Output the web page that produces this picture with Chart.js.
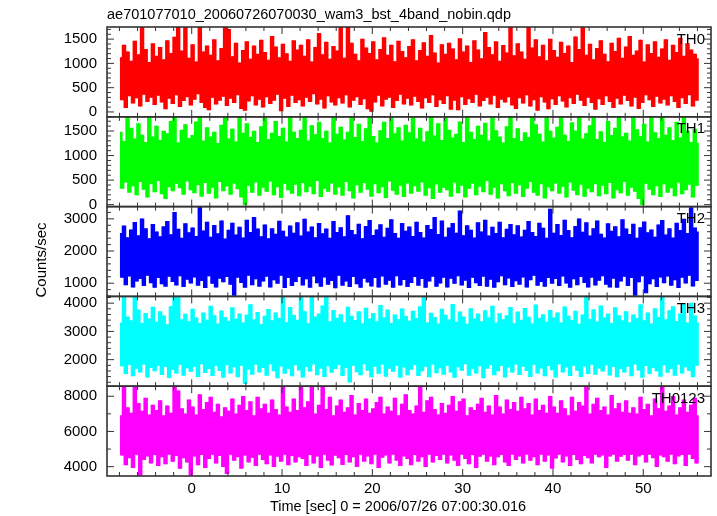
<!DOCTYPE html>
<html>
<head>
<meta charset="utf-8">
<title>WAM light curve</title>
<script src="https://cdn.jsdelivr.net/npm/chart.js@4.4.1/dist/chart.umd.min.js"></script>
<style>
  html, body { margin: 0; padding: 0; background: #fff; }
  #wrap { position: relative; width: 717px; height: 516px; }
</style>
</head>
<body>
<div id="wrap"><canvas id="lc" width="717" height="516"></canvas></div>
<script>
const fileName = 'ae701077010_20060726070030_wam3_bst_4band_nobin.qdp';
const xLabel = 'Time [sec] 0 = 2006/07/26 07:00:30.016';
const yLabel = 'Counts/sec';

// time grid of the light curve (sec)
const tStart = -7.9;
const tStep = 0.2;

const bandNames = ['TH0', 'TH1', 'TH2', 'TH3', 'TH0123'];
const bandColors = ['#ff0000', '#00ff00', '#0000ff', '#00ffff', '#ff00ff'];

// count rates
const th0Rate = [
  1120,250,1380,90,1240,330,1050,180,1460,290,1180,120,1750,360,1290,210,1020,300,1410,150,
  1150,340,1330,200,1080,60,1470,280,1210,170,1540,350,1750,110,1260,230,1750,310,1110,140,
  1390,260,1030,370,1750,190,1240,90,1360,40,1170,300,1490,160,1060,240,1310,320,1750,130,
  1700,280,1140,190,1420,350,1010,70,1270,30,1450,220,1090,330,1360,140,1190,260,1480,100,
  1230,310,1070,170,1560,240,1340,360,1120,20,1400,280,1200,110,1050,340,1470,190,1280,250,
  1380,120,1150,300,1490,210,1030,370,1330,160,1620,260,1180,80,1440,330,1090,200,1350,140,
  1260,290,1750,180,1110,350,1750,100,1420,240,1190,310,1060,150,1500,270,1320,60,1210,10,
  1450,200,1080,340,1290,120,1530,260,1170,300,1380,90,1040,230,1460,360,1250,160,1120,280,
  1350,140,1490,320,1060,210,1270,80,1430,290,1150,190,1580,350,1220,110,1010,250,1390,170,
  1190,330,1420,50,1300,240,1080,40,1510,310,1240,150,1360,270,1020,190,1470,360,1280,120,
  1100,230,1640,300,1330,160,1180,340,1450,90,1050,260,1370,200,1220,310,1750,140,1160,70,
  1410,290,1240,180,1090,350,1750,120,1320,250,1490,30,1140,310,1380,200,1060,60,1500,270,
  1270,150,1130,330,1440,220,1210,100,1360,290,1020,170,1550,360,1290,240,1750,130,1170,300,
  1400,190,1080,50,1310,270,1470,150,1190,330,1040,210,1420,90,1250,280,1520,160,1110,340,
  1340,230,1560,120,1170,300,1260,70,1480,190,1030,350,1390,250,1210,110,1450,320,1130,180,
  1300,260,1490,140,1070,330,1380,210,1230,90,1520,290,1150,170,1410,350,1280,120,1190,240,
  1100];

const th1Rate = [
  1480,330,1290,460,1790,250,1560,380,1340,200,1650,470,1420,310,1270,150,1790,420,1380,260,
  1600,490,1310,220,1500,120,1450,360,1700,280,1790,430,1260,340,1520,210,1630,480,1350,300,
  1410,240,1690,400,1790,170,1300,450,1570,230,1380,350,1480,130,1250,470,1620,280,1790,380,
  1340,210,1540,440,1280,320,1790,150,1460,0,1650,390,1370,250,1500,460,1270,190,1590,350,
  1790,270,1330,480,1460,200,1700,360,1390,140,1560,430,1280,300,1790,230,1480,410,1350,180,
  1520,450,1790,260,1300,370,1610,220,1430,490,1680,160,1350,330,1500,270,1260,440,1790,210,
  1440,360,1580,190,1320,470,1480,280,1790,130,1370,400,1640,250,1290,450,1550,310,1790,170,
  1390,420,1260,240,1510,360,1680,140,1350,480,1790,290,1450,210,1570,390,1300,160,1620,440,
  1470,230,1790,380,1340,270,1560,460,1280,190,1490,340,1790,120,1400,420,1650,250,1310,350,
  1790,300,1520,170,1360,460,1440,240,1690,390,1270,150,1790,330,1480,440,1330,200,1600,370,
  1420,260,1660,490,1300,210,1790,350,1510,130,1380,420,1260,280,1590,180,1790,450,1350,230,
  1550,400,1290,160,1470,330,1370,470,1790,250,1630,190,1440,420,1280,130,1790,360,1500,280,
  1360,440,1580,230,1790,370,1420,150,1290,460,1670,290,1500,200,1790,410,1340,170,1450,330,
  1610,260,1790,420,1330,180,1490,390,1270,220,1700,450,1410,130,1560,300,1790,240,1380,470,
  1460,190,1300,350,1790,270,1530,120,1390,0,1640,430,1280,310,1790,200,1470,380,1350,160,
  1790,420,1420,250,1570,340,1310,180,1680,460,1360,220,1790,300,1500,410,1270,150,1540,390,
  1250];

const th2Rate = [
  2550,1180,2780,950,2420,1220,2660,880,2890,1060,2480,1140,3000,920,2700,1240,2390,1010,2830,870,
  2600,1170,2450,980,2760,900,2920,1210,2510,1050,3200,940,2680,1230,2400,890,2850,1120,2570,1000,
  2720,1190,2460,930,3380,1080,2630,860,2900,1230,2430,990,2800,880,2540,1150,2940,1040,2380,1200,
  2650,960,2870,620,2500,1180,2740,1020,2410,870,2960,1240,2580,950,3050,1130,2690,900,2450,1060,
  2810,1210,2390,880,2700,1100,2530,990,2930,1240,2620,860,2440,1170,2780,920,2560,1050,2880,1200,
  2470,940,2990,1130,2600,870,2750,1220,2420,1010,2860,900,2540,1190,2690,960,2400,1080,2920,850,
  2580,1240,2730,930,2450,1060,3100,890,2640,1200,2510,980,2840,870,2390,1150,2770,1030,2950,910,
  2490,1170,2660,880,2820,1220,2430,960,2710,1090,2980,870,2550,1230,2400,940,2860,1110,2620,890,
  2750,1020,2460,1200,2900,930,2580,1140,2410,870,2800,1060,2670,1210,3050,900,2520,1000,2940,1180,
  2430,880,2720,1150,2860,990,2560,1230,3250,940,2480,1090,2790,860,2650,1180,2410,1010,2880,920,
  2600,1210,2960,900,2470,1120,2740,870,2550,1040,2900,1230,2420,950,2680,1160,2830,890,2510,1070,
  2790,960,2440,1190,2650,880,2920,1100,2580,1240,2460,930,2870,1050,2710,900,2400,1170,3300,990,
  2560,1140,2830,920,2490,1220,2960,1000,2640,870,2420,1130,2770,950,3000,1200,2590,1020,2880,880,
  2470,1180,2700,940,2940,1090,2530,1230,2410,960,2850,880,2620,1150,2760,870,2450,1060,2980,1210,
  2690,920,2520,1170,2840,620,2400,1040,2730,1230,2910,700,2570,980,2660,1130,2430,890,2810,1190,
  2950,1010,2500,1220,2700,930,2410,1100,2870,860,2640,1180,2990,1000,2550,1240,3350,910,2720,1080,
  2600];

const th3Rate = [
  3300,1780,4240,1500,3520,1820,3380,1420,4240,1690,3760,1560,3290,1840,3640,1380,3450,1720,3860,1600,
  3330,1800,3700,1470,3550,1750,3240,1360,3880,1650,4240,1520,4240,1830,3420,1440,3610,1710,3350,1580,
  3790,1760,3480,1400,3290,1850,3660,1540,3400,1680,3900,1430,3560,1790,3270,1610,3730,1370,3500,1820,
  3360,1520,3840,1740,3440,1390,3620,1800,3300,1150,3580,1660,3950,1480,3410,1830,3680,1560,3250,1720,
  3540,1440,3780,1850,3380,1600,3660,1350,3460,1770,4240,1510,3310,1690,3850,1420,3570,1810,3400,1630,
  4240,1380,3700,1750,3280,1590,4240,1840,3520,1460,3620,1700,3910,1400,4240,1780,3350,1550,3750,1680,
  3470,1820,3600,1430,3310,1720,3860,1200,3540,1800,3390,1570,3700,1460,3280,1850,3830,1620,3450,1390,
  3640,1760,3350,1510,3920,1840,3480,1410,3760,1690,3290,1580,3590,1800,3420,1370,3800,1730,3530,1460,
  3370,1650,3720,1820,3460,1430,3880,1600,4240,1760,3300,1390,3650,1840,3500,1530,3270,1710,3790,1480,
  3580,1800,3410,1560,3960,1370,3330,1740,3690,1620,3520,1850,3260,1440,3810,1690,3440,1520,3620,1780,
  3350,1350,3740,1690,3480,1820,3900,1460,3300,1600,3630,1790,3420,1380,3560,1730,3850,1560,3280,1840,
  3690,1470,3400,1760,3820,1610,3510,1400,3270,1830,3940,1520,3460,1700,3600,1420,3330,1790,3750,1640,
  3480,1380,3660,1850,3300,1560,3870,1740,3540,1430,3390,1800,3720,1620,3260,1400,3590,1770,4240,1500,
  3430,1830,3770,1480,3340,1700,3910,1590,3480,1810,3620,1450,3290,1750,3840,1390,3560,1680,3380,1560,
  3700,1760,3310,1420,3590,1840,3460,1630,3950,1370,3380,1790,3660,1500,3270,1720,3810,1600,3500,1410,
  4240,1810,3420,1550,3740,1680,3880,1440,3360,1830,3620,1520,3960,1740,3300,1610,4000,1390,3550,1800,
  3300];

const th0123Rate = [
  6900,4650,8570,4100,7350,4500,7050,3950,8570,4700,7600,3500,7150,4400,7900,4600,6950,4200,7500,4680,
  7200,4050,7750,4550,6900,4150,7450,4690,7050,4300,8570,4620,8300,3900,7300,4500,7000,4250,7800,3500,
  7400,4600,6950,4100,8100,4680,7250,3950,7650,4450,7950,4700,7100,4200,7550,4620,6850,4000,7350,3600,
  7150,4700,7850,4350,7000,4560,7500,3900,8000,4650,7200,4250,7700,4520,6900,4050,7950,4700,7300,4400,
  7550,4150,7050,4660,7800,4000,7250,4580,6950,4300,8570,4700,7400,4100,7100,4620,7850,4250,7200,4560,
  8570,4450,7350,4050,7700,4680,8570,4200,7000,4600,7500,3950,8570,4700,7250,4350,7950,4080,6900,4640,
  7450,4500,7800,4120,7100,4680,7350,4250,8050,4550,6950,4000,7600,4700,7200,4300,7850,4600,7050,4150,
  7300,4690,7650,3950,7950,4520,7000,4650,7400,4200,7150,4700,7900,4350,6900,4050,7550,4600,8100,4450,
  7200,4100,7000,4680,7450,4300,8570,4550,7100,4000,7750,4700,7950,4250,7250,4620,6950,4400,7600,4700,
  7050,4200,7500,4650,8000,4350,7150,4050,7700,4700,7850,4450,6900,4150,7350,4680,7200,3950,7550,4580,
  7900,4700,7100,4300,7450,4600,6950,4100,8050,4550,7400,4680,7000,4250,7800,4050,7250,4700,7650,4400,
  7150,4600,7950,4200,7300,4690,7600,4350,6950,4550,7850,4100,7200,4700,7500,4300,7050,4650,8000,3900,
  7400,4480,7050,4700,7750,4250,7300,4600,6900,4050,7950,4680,7150,4400,7650,4150,7450,4620,8570,4500,
  7000,4200,7550,4700,7900,4550,7200,4650,7400,3950,6950,4600,8050,4700,7300,4300,7600,4580,7100,4680,
  7750,4350,7050,4700,7350,4100,7000,4600,7950,4680,7250,4250,7550,4700,6900,4500,7850,4000,7300,4650,
  8500,4550,7150,4300,7450,4700,8000,4150,6950,4600,7350,4680,7800,4050,7100,4700,7500,4450,7900,4200,
  6900];

const bandRates = [th0Rate, th1Rate, th2Rate, th3Rate, th0123Rate];

// axes
const xRange = [-9.38, 57.5];
const xTicks = [0, 10, 20, 30, 40, 50];
const xMinorStep = 2;
const yRanges = [[-100, 1750], [-40, 1790], [590, 3380], [1060, 4240], [3470, 8570]];
const yTicks = [[0, 500, 1000, 1500], [0, 500, 1000, 1500], [1000, 2000, 3000], [2000, 3000, 4000], [4000, 6000, 8000]];
const yMinorStep = [100, 100, 200, 200, 1000];

const fontFamily = "'Liberation Sans', Arial, Helvetica, sans-serif";

// the curve between two successive samples, as a vertical span
function buildSpans(rates) {
    const spans = [];
    for (let k = 0; k + 1 < rates.length; k++) {
        const a = rates[k];
        const b = rates[k + 1];
        spans.push({ x: tStart + (k + 0.5) * tStep, y: [Math.min(a, b), Math.max(a, b)] });
    }
    return spans;
}

const datasets = bandNames.map((name, i) => ({
    type: 'bar',
    label: name,
    data: buildSpans(bandRates[i]),
    yAxisID: 'y' + i,
    xAxisID: 'x',
    backgroundColor: bandColors[i],
    borderWidth: 0,
    barThickness: 2.0,
    grouped: false
}));

const scales = {
    x: {
        type: 'linear',
        position: 'bottom',
        offset: false,
        min: xRange[0],
        max: xRange[1],
        afterBuildTicks: s => { s.ticks = xTicks.map(v => ({ value: v })); },
        afterFit: s => { s.height = 40; },
        grid: { display: false, drawTicks: false },
        border: { display: false },
        ticks: {
            color: '#000',
            font: { family: fontFamily, size: 15 },
            padding: 4,
            maxRotation: 0,
            autoSkip: false,
            callback: v => String(v)
        }
    }
};

bandNames.forEach((name, i) => {
    scales['y' + i] = {
        type: 'linear',
        position: 'left',
        stack: 'panels',
        stackWeight: 1,
        weight: bandNames.length - i,
        min: yRanges[i][0],
        max: yRanges[i][1],
        afterBuildTicks: s => { s.ticks = yTicks[i].map(v => ({ value: v })); },
        afterFit: s => { s.width = 107; },
        grid: { display: false, drawTicks: false },
        border: { display: false },
        ticks: {
            color: '#000',
            font: { family: fontFamily, size: 15 },
            padding: 10,
            autoSkip: false,
            callback: v => String(v)
        }
    };
});

// frames, inward tick marks and the text round the panels
const panelFrame = {
    id: 'panelFrame',
    afterDraw(chart) {
        const ctx = chart.ctx;
        const xs = chart.scales.x;
        const left = chart.chartArea.left;
        const right = chart.chartArea.right;

        ctx.save();
        ctx.strokeStyle = '#333';
        ctx.lineWidth = 1;

        bandNames.forEach((name, i) => {
            const ys = chart.scales['y' + i];
            const top = ys.top;
            const bottom = ys.bottom;

            ctx.beginPath();
            const step = yMinorStep[i];
            for (let v = Math.ceil(ys.min / step) * step; v <= ys.max; v += step) {
                const len = yTicks[i].includes(v) ? 7 : 4;
                const py = ys.getPixelForValue(v);
                ctx.moveTo(left, py);
                ctx.lineTo(left + len, py);
                ctx.moveTo(right, py);
                ctx.lineTo(right - len, py);
            }
            for (let v = Math.ceil(xs.min / xMinorStep) * xMinorStep; v <= xs.max; v += xMinorStep) {
                const len = (v % 10 === 0) ? 7 : 4;
                const px = xs.getPixelForValue(v);
                ctx.moveTo(px, top);
                ctx.lineTo(px, top + len);
                ctx.moveTo(px, bottom);
                ctx.lineTo(px, bottom - len);
            }
            ctx.stroke();

            ctx.lineWidth = 1.6;
            ctx.strokeRect(left, top, right - left, bottom - top);
            ctx.lineWidth = 1;

            ctx.fillStyle = '#000';
            ctx.font = '15px ' + fontFamily;
            ctx.textAlign = 'right';
            ctx.textBaseline = 'alphabetic';
            ctx.fillText(name, right - 6, top + 16.5);
        });

        ctx.fillStyle = '#000';
        ctx.font = '14.5px ' + fontFamily;
        ctx.textBaseline = 'middle';
        ctx.textAlign = 'left';
        ctx.fillText(fileName, 107, 15);

        ctx.textAlign = 'center';
        ctx.fillText(xLabel, 398, 507);

        ctx.translate(42, 260);
        ctx.rotate(-Math.PI / 2);
        ctx.font = '15px ' + fontFamily;
        ctx.fillText(yLabel, 0, 0);
        ctx.restore();
    }
};

new Chart(document.getElementById('lc').getContext('2d'), {
    type: 'bar',
    data: { datasets: datasets },
    options: {
        responsive: false,
        animation: false,
        devicePixelRatio: 1,
        layout: { padding: { left: 0, right: 6, top: 27, bottom: 0 } },
        plugins: {
            legend: { display: false },
            tooltip: { enabled: false }
        },
        scales: scales
    },
    plugins: [panelFrame]
});
</script>
</body>
</html>
